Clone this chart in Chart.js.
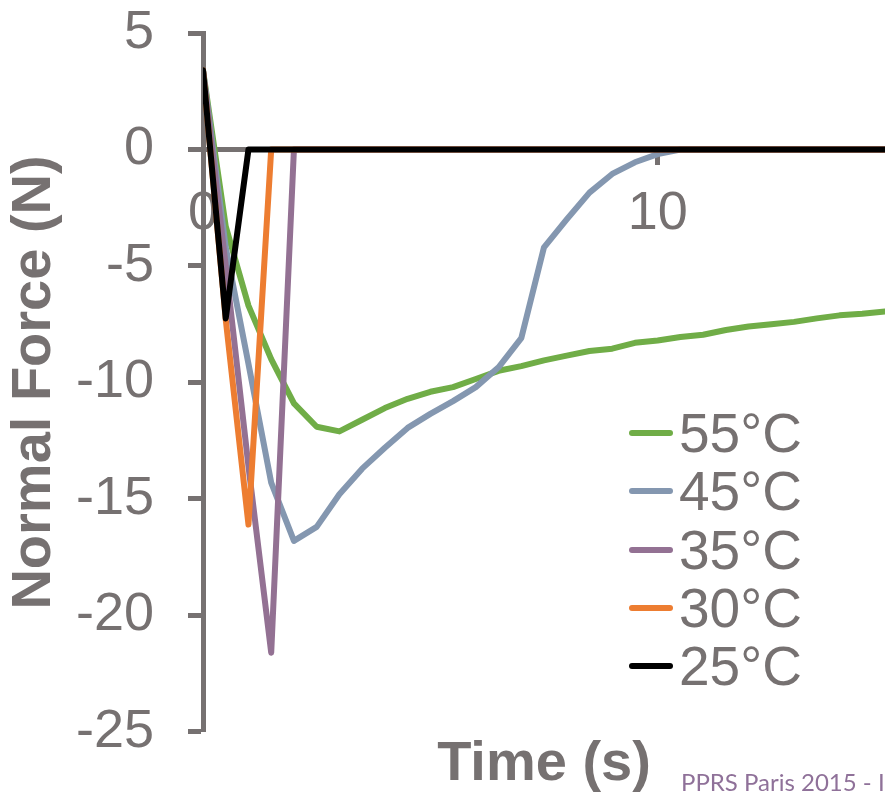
<!DOCTYPE html>
<html>
<head>
<meta charset="utf-8">
<script src="https://cdn.jsdelivr.net/npm/chart.js@4/dist/chart.umd.min.js"></script>
<style>
  html, body { margin: 0; padding: 0; background: #fff; }
  #wrap { position: relative; width: 885px; height: 798px; overflow: hidden; }
  #legend {
    position: absolute; left: 626px; top: 404px;
    font-family: "Liberation Sans", Arial, sans-serif; font-size: 55px; color: #767171;
  }
  .item { display: flex; align-items: center; height: 58.3px; line-height: 58.3px; }
  .swatch { width: 44px; height: 6px; border-radius: 3px; margin: 0 6px 0 3px; }
  #footer {
    position: absolute; left: 681px; top: 770px; white-space: nowrap;
    font-family: Lato, "Open Sans", sans-serif; font-size: 24px; line-height: 1; color: #8f7199;
  }
</style>
</head>
<body>
<div id="wrap">
  <canvas id="chart" width="885" height="798"></canvas>
  <div id="legend"></div>
  <div id="footer">PPRS Paris 2015 - I</div>
</div>
<script>
// sample times (s)
const time = [0, 0.5, 1, 1.5, 2, 2.5, 3, 3.5, 4, 4.5, 5, 5.5, 6, 6.5, 7, 7.5,
              8, 8.5, 9, 9.5, 10, 10.5, 11, 11.5, 12, 12.5, 13, 13.5, 14, 14.5, 15];

// normal force (N) per temperature
const force55 = [3.4, -3.3, -6.7, -9.0, -10.9, -11.9, -12.1, -11.6, -11.1, -10.7, -10.4,
                 -10.2, -9.85, -9.5, -9.3, -9.05, -8.85, -8.65, -8.55, -8.3, -8.2, -8.05,
                 -7.95, -7.75, -7.6, -7.5, -7.4, -7.25, -7.12, -7.05, -6.95];
const force45 = [3.4, -4.2, -9.2, -14.3, -16.8, -16.2, -14.8, -13.7, -12.8, -11.95, -11.35,
                 -10.8, -10.2, -9.35, -8.1, -4.2, -3.0, -1.85, -1.05, -0.55, -0.2, 0,
                 0, 0, 0, 0, 0, 0, 0, 0, 0];
const force35 = [3.4, -5.0, -13.6, -21.6, 0, 0, 0, 0, 0, 0, 0, 0, 0, 0, 0, 0,
                 0, 0, 0, 0, 0, 0, 0, 0, 0, 0, 0, 0, 0, 0, 0];
const force30 = [3.4, -7.3, -16.1, 0, 0, 0, 0, 0, 0, 0, 0, 0, 0, 0, 0, 0,
                 0, 0, 0, 0, 0, 0, 0, 0, 0, 0, 0, 0, 0, 0, 0];
const force25 = [3.4, -7.25, 0, 0, 0, 0, 0, 0, 0, 0, 0, 0, 0, 0, 0, 0,
                 0, 0, 0, 0, 0, 0, 0, 0, 0, 0, 0, 0, 0, 0, 0];

const labels = ["55°C", "45°C", "35°C", "30°C", "25°C"];
const colors = ["#70ad47", "#8497b0", "#937193", "#ed7d31", "#000000"];
const series = [force55, force45, force35, force30, force25];

const gray = "#767171";
Chart.defaults.font.family = '"Liberation Sans", Arial, sans-serif';
Chart.defaults.color = gray;

const datasets = series.map((vals, i) => ({
  label: labels[i],
  data: vals.map((v, j) => ({ x: time[j], y: v })),
  borderColor: colors[i],
  backgroundColor: colors[i],
  borderWidth: 6,
  borderJoinStyle: "round",
  borderCapStyle: "round",
  pointRadius: 0,
  tension: 0,
  order: series.length - i, // 25°C drawn on top
}));

const chart = new Chart(document.getElementById("chart"), {
  type: "line",
  data: { datasets },
  options: {
    responsive: false,
    animation: false,
    devicePixelRatio: 1,
    layout: { padding: 0 },
    scales: {
      x: {
        type: "linear",
        position: { y: 0 },
        min: 0,
        max: 15,
        ticks: { stepSize: 10, includeBounds: false, font: { size: 54 }, color: gray, padding: 19 },
        grid: { drawOnChartArea: false, drawTicks: true, tickLength: 13, tickWidth: 5, tickColor: gray },
        border: { color: gray, width: 5 },
      },
      y: {
        min: -25,
        max: 5,
        ticks: { stepSize: 5, font: { size: 54 }, color: gray, padding: 34 },
        grid: { drawOnChartArea: false, drawTicks: true, tickLength: 15, tickWidth: 5, tickColor: gray },
        border: { color: gray, width: 5 },
        title: {
          display: true,
          text: "Normal Force (N)",
          font: { size: 56, weight: "bold" },
          color: gray,
          padding: { top: 1, bottom: 0 },
        },
        afterFit(scale) {
          // fixed axis width; keep the label padding from pushing the plot down
          scale.width = 203;
          scale.paddingTop = 33;
          scale.paddingBottom = 0;
        },
      },
    },
    plugins: {
      legend: { display: false },
      tooltip: { enabled: false },
      title: {
        display: true,
        position: "bottom",
        fullSize: false,
        text: "Time (s)",
        color: gray,
        font: { size: 56, weight: "bold", lineHeight: 1.18 },
        padding: 0,
      },
    },
  },
});

// legend rows built from the datasets
const legend = document.getElementById("legend");
chart.data.datasets.forEach((ds) => {
  const row = document.createElement("div");
  row.className = "item";
  const sw = document.createElement("span");
  sw.className = "swatch";
  sw.style.background = ds.borderColor;
  const txt = document.createElement("span");
  txt.textContent = ds.label;
  row.appendChild(sw);
  row.appendChild(txt);
  legend.appendChild(row);
});
</script>
</body>
</html>
